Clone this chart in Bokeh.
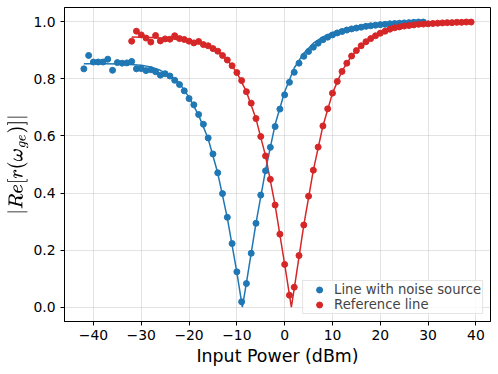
from bokeh.plotting import figure
from bokeh.models import Range1d, FixedTicker, PrintfTickFormatter, Legend, LegendItem
from bokeh.embed import file_html
from bokeh.resources import INLINE

# ---- data ----
blue_x = list(range(-42, 30))
blue_y = [0.835, 0.882, 0.859, 0.859, 0.859, 0.869, 0.830, 0.857, 0.855, 0.856,
          0.861, 0.835, 0.836, 0.829, 0.832, 0.825, 0.813, 0.818, 0.810, 0.795,
          0.780, 0.758, 0.731, 0.709, 0.675, 0.641, 0.593, 0.537, 0.471, 0.398,
          0.315, 0.223, 0.124, 0.019, 0.083, 0.189, 0.294, 0.393, 0.478, 0.560,
          0.633, 0.694, 0.744, 0.788, 0.823, 0.855, 0.879, 0.896, 0.911, 0.925,
          0.937, 0.946, 0.954, 0.961, 0.966, 0.971, 0.975, 0.978, 0.981, 0.984,
          0.986, 0.988, 0.990, 0.991, 0.993, 0.994, 0.995, 0.996, 0.997, 0.998,
          0.999, 0.999]
red_x = list(range(-32, 40))
red_y = [0.932, 0.967, 0.954, 0.943, 0.929, 0.952, 0.933, 0.940, 0.939, 0.951,
         0.941, 0.938, 0.932, 0.926, 0.931, 0.920, 0.916, 0.906, 0.897, 0.882,
         0.866, 0.846, 0.822, 0.794, 0.755, 0.715, 0.661, 0.598, 0.530, 0.448,
         0.358, 0.256, 0.150, 0.042, 0.070, 0.181, 0.288, 0.389, 0.480, 0.561,
         0.635, 0.695, 0.750, 0.791, 0.826, 0.855, 0.880, 0.899, 0.916, 0.930,
         0.941, 0.951, 0.960, 0.967, 0.974, 0.979, 0.982, 0.985, 0.987, 0.989,
         0.991, 0.992, 0.993, 0.994, 0.995, 0.996, 0.997, 0.997, 0.998, 0.998,
         0.999, 0.999]

blue_fit_x = [-42, -38, -34, -30, -28, -26, -24, -22, -20, -18, -16, -14, -12, -10,
              -8.85, -8, -6, -4, -2, 0, 2, 4, 6, 8, 10, 12, 15, 18, 22, 26, 29]
blue_fit_y = [0.853, 0.853, 0.852, 0.848, 0.842, 0.830, 0.812, 0.785, 0.735, 0.673,
              0.590, 0.470, 0.313, 0.122, 0.0, 0.085, 0.295, 0.480, 0.640, 0.755,
              0.838, 0.890, 0.925, 0.947, 0.962, 0.972, 0.982, 0.988, 0.993, 0.996,
              0.998]
red_fit_x = [-32, -28, -24, -20, -18, -16, -14, -12, -10, -8, -6, -4, -2, 0, 1.4,
             2, 4, 6, 8, 10, 12, 14, 16, 18, 20, 23, 26, 30, 35, 39]
red_fit_y = [0.947, 0.945, 0.941, 0.932, 0.926, 0.913, 0.897, 0.866, 0.822, 0.755,
             0.660, 0.530, 0.358, 0.150, 0.0, 0.065, 0.288, 0.480, 0.635, 0.750,
             0.828, 0.880, 0.917, 0.942, 0.960, 0.977, 0.987, 0.993, 0.997, 0.999]

x_ticks = [-40, -30, -20, -10, 0, 10, 20, 30, 40]
x_tick_labels = ["\u221240", "\u221230", "\u221220", "\u221210", "0", "10", "20", "30", "40"]
y_ticks = [0.0, 0.2, 0.4, 0.6, 0.8, 1.0]

series_names = ["Line with noise source", "Reference line"]
BLUE = "#1f77b4"
RED = "#d62728"
FONT = "DejaVu Sans"

p = figure(width=498, height=374, output_backend="svg", toolbar_location=None,
           x_range=Range1d(-46.05, 43.05), y_range=Range1d(-0.05, 1.05),
           min_border_left=64, min_border_right=8, min_border_top=7, min_border_bottom=53)

p.background_fill_color = "white"
p.border_fill_color = "white"
p.outline_line_color = "black"
p.outline_line_width = 1

p.xgrid.grid_line_color = "#b0b0b0"
p.ygrid.grid_line_color = "#b0b0b0"
p.xgrid.grid_line_alpha = 0.35
p.ygrid.grid_line_alpha = 0.35

p.xaxis.ticker = FixedTicker(ticks=x_ticks)
p.xaxis.major_label_overrides = {t: l for t, l in zip(x_ticks, x_tick_labels)}
p.yaxis.ticker = FixedTicker(ticks=y_ticks)
p.yaxis.formatter = PrintfTickFormatter(format="%.1f")

for ax in (p.xaxis[0], p.yaxis[0]):
    ax.major_tick_in = 0
    ax.major_tick_out = 4
    ax.minor_tick_line_color = None
    ax.axis_line_color = "black"
    ax.major_tick_line_color = "black"
    ax.major_label_text_font = FONT
    ax.major_label_text_font_size = "13.9px"
    ax.major_label_text_color = "black"
    ax.axis_label_text_font = FONT
    ax.axis_label_text_font_size = "17.4px"
    ax.axis_label_text_font_style = "normal"
    ax.axis_label_text_color = "black"
    ax.major_label_standoff = 5

p.xaxis.major_label_standoff = 4
p.xaxis.axis_label = "Input Power (dBm)"
p.yaxis.axis_label = r"$$|Re[r(\omega_{ge})]|$$"
p.yaxis.axis_label_text_font_size = "15px"
p.xaxis.axis_label_standoff = 3
p.yaxis.axis_label_standoff = 2

p.line(blue_fit_x, blue_fit_y, line_color=BLUE, line_width=1.5)
p.line(red_fit_x, red_fit_y, line_color=RED, line_width=1.5)
rb = p.scatter(blue_x, blue_y, size=6, fill_color=BLUE, line_color=BLUE)
rr = p.scatter(red_x, red_y, size=6, fill_color=RED, line_color=RED)

legend = Legend(items=[LegendItem(label=series_names[0], renderers=[rb]),
                       LegendItem(label=series_names[1], renderers=[rr])],
                location="bottom_right")
legend.margin = 7
legend.padding = 1
legend.spacing = 0
legend.glyph_width = 30
legend.glyph_height = 15
legend.label_height = 15
legend.label_standoff = 0
legend.label_text_font = FONT
legend.label_text_font_size = "13.2px"
legend.border_line_color = "#cccccc"
legend.border_line_width = 1
legend.background_fill_alpha = 0.8
p.add_layout(legend)

open("out.html", "w").write(file_html(p, INLINE))
